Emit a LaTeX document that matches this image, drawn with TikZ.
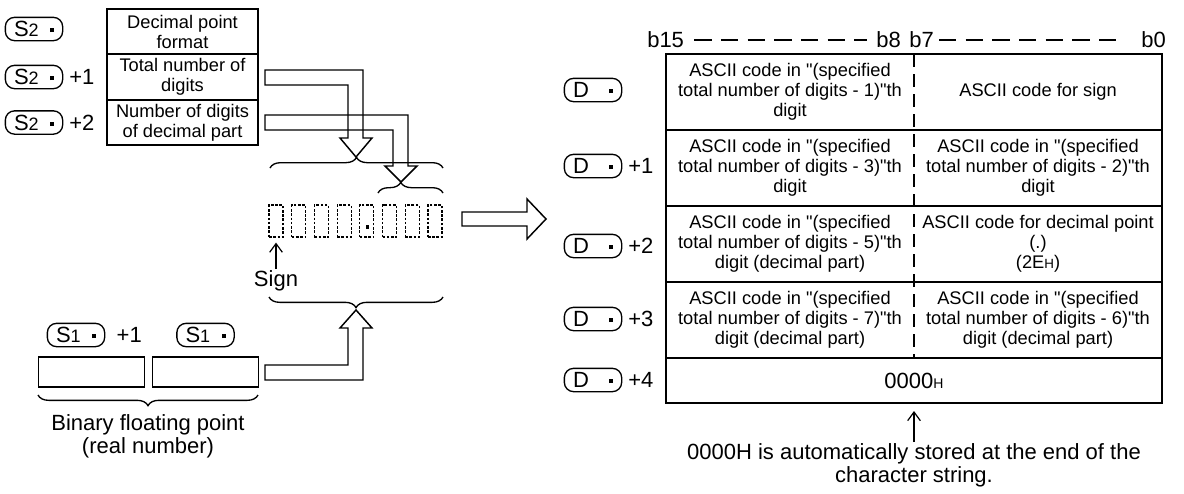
\documentclass[tikz,border=0pt]{standalone}
\usepackage{fontspec}
\setmainfont{Liberation Sans}[Ligatures=TeXOff]
\usetikzlibrary{arrows.meta,calc,positioning,decorations.pathreplacing}
\newcommand\blk{\rule[0.2em]{3pt}{3pt}}
\newcommand\dev[2]{\makebox[27pt][l]{#1{\fontsize{13.5}{13.5}\selectfont #2}}\blk}
\newcommand\hx{{\fontsize{10}{10}\selectfont H}}
\tikzset{ptr/.style={-{Straight Barb[length=6.5pt,width=9.5pt]}, line width=0.9pt},
  lbl/.style={font=\fontsize{16.5}{17.25}\selectfont},
  op/.style={lbl, draw, line width=1pt, rounded corners=7pt, minimum width=43pt, minimum height=17.5pt, inner sep=0pt},
  fld/.style={draw, line width=1.3pt, align=center, minimum width=113pt, minimum height=34pt, inner sep=0pt},
  word/.style={draw, line width=1.3pt, minimum width=79.5pt, minimum height=22.5pt, inner sep=0pt},
  dig/.style={draw, line width=0.9pt, dash pattern=on 2pt off 1.2pt, minimum width=10.5pt, minimum height=24pt, inner sep=0pt},
  cell/.style={align=center, minimum width=186pt, minimum height=57pt, inner sep=0pt, outer sep=0pt},
  tbl/.style={line width=1.5pt},
  mid/.style={line width=1.3pt, dash pattern=on 10pt off 5pt},
  hdash/.style={line width=1.1pt, dash pattern=on 13pt off 7pt},
  hollow/.style={draw, line width=1.1pt, line join=miter},
  brc/.style={decorate, decoration={brace, amplitude=8pt}, line width=1pt}}

\begin{document}
\begin{tikzpicture}[x=0.75pt, y=-0.75pt, font=\fontsize{13.7}{15}\selectfont]
  \useasboundingbox (0,0) rectangle (1184,493);
  % S2 fields
  \node[fld] (f1) at (182.5,31.5) {Decimal point\\format};
  \node[fld] (f2) at (182.5,77) {Total number of\\digits};
  \node[fld] (f3) at (182.5,122.5) {Number of digits\\of decimal part};
  \node[op] (s2a) at (34,29) {\dev{S}{2}};
  \node[op] (s2b) at (34,77) {\dev{S}{2}};
  \node[op] (s2c) at (34,122.5) {\dev{S}{2}};
  \node[lbl, right=1pt of s2b] (s2bn) {+1};
  \node[lbl, right=1pt of s2c] (s2cn) {+2};
  % digit string
  \foreach \i in {1,...,8}
    \node[dig] (g\i) at ({276+22.7*(\i-1)},221) {};
  \node[fill, minimum size=2.6pt, inner sep=0pt] (dp) at ($(g5.center)+(0.5,6)$) {};
  % hollow arrows into the braces
  \draw[hollow] (265,70) -- (363,70) -- (363,138) -- (372,138) -- (356,157) -- (340,138) -- (348,138) -- (348,85) -- (265,85) -- cycle;
  \draw[hollow] (265,115) -- (408,115) -- (408,166) -- (417,166) -- (401,182) -- (385,166) -- (393,166) -- (393,130) -- (265,130) -- cycle;
  \draw[brc] (270,168) -- (443,168);
  \draw[brc, decoration={brace, amplitude=8pt, aspect=0.35}] (378,193) -- (443,193);
  \node[lbl, inner sep=1pt] (sgn) at (276,281) {Sign};
  \draw[ptr] (sgn.north) -- ($(g1.south)+(0,5)$);
  \draw[brc] (443,297) -- (269,297);
  % S1 words
  \node[word] (w1) at (91.5,372) {};
  \node[word] (w0) at (205.5,372) {};
  \node[op] (s1b) at (76,335) {\dev{S}{1}};
  \node[lbl, right=5pt of s1b] (s1bn) {+1};
  \node[op] (s1a) at (205.5,335) {\dev{S}{1}};
  \draw[hollow] (265,365) -- (348,365) -- (348,328) -- (340,328) -- (356,310) -- (372,328) -- (363,328) -- (363,380) -- (265,380) -- cycle;
  \draw[brc] (258,395) -- (38,395);
  \node[lbl, align=center] (bfp) at (148,436) {Binary floating point\\(real number)};
  % to D
  \draw[hollow] (462,212) -- (527,212) -- (527,199) -- (546,219) -- (527,239) -- (527,226) -- (462,226) -- cycle;
  % bit header
  \node[lbl, inner sep=0pt, anchor=west] (b15) at (647,40) {b15};
  \node[lbl, inner sep=0pt, anchor=east] (b8) at (901,40) {b8};
  \node[lbl, inner sep=0pt, anchor=west] (b7) at (909,40) {b7};
  \node[lbl, inner sep=0pt, anchor=east] (b0) at (1166,40) {b0};
  \draw[hdash] ($(b15.east)+(10,0)$) -- ($(b8.west)+(-9,0)$);
  \draw[hdash] ($(b7.east)+(5,0)$) -- ($(b0.west)+(-18,0)$);
  % D table
  \node[cell] (hi1) at (790,92) {ASCII code in "(specified\\total number of digits - 1)"th\\digit};
  \node[cell] (hi2) at (790,168) {ASCII code in "(specified\\total number of digits - 3)"th\\digit};
  \node[cell] (hi3) at (790,244) {ASCII code in "(specified\\total number of digits - 5)"th\\digit (decimal part)};
  \node[cell] (hi4) at (790,320) {ASCII code in "(specified\\total number of digits - 7)"th\\digit (decimal part)};
  \node[cell] (lo1) at (1038,92) {ASCII code for sign};
  \node[cell] (lo2) at (1038,168) {ASCII code in "(specified\\total number of digits - 2)"th\\digit};
  \node[cell] (lo3) at (1038,244) {ASCII code for decimal point\\(.)\\(2E\hx)};
  \node[cell] (lo4) at (1038,320) {ASCII code in "(specified\\total number of digits - 6)"th\\digit (decimal part)};
  \node[cell, lbl, minimum width=372pt, minimum height=33.75pt] (nul) at (914,380.5) {0000{\fontsize{10.5}{10.5}\selectfont H}};
  \draw[tbl] (hi1.north west) rectangle (nul.south east);
  \foreach \r in {1,...,4} \draw[tbl] (hi\r.south west) -- (lo\r.south east);
  \draw[mid] (hi1.north east) -- (hi4.south east);
  \node[op] (d1) at (593,90) {\dev{D}{}};
  \foreach \r/\y [count=\k] in {2/166,3/246,4/319,5/380}{
    \node[op] (d\r) at (593,\y) {\dev{D}{}};
    \node[lbl, right=1pt of d\r] (dn\r) {+\k};
  }
  \node[lbl, align=center, inner sep=1pt, anchor=north] (note) at (914,442) {0000H is automatically stored at the end of the\\character string.};
  \draw[ptr] (note.north) -- ($(nul.south)+(0,8)$);
\end{tikzpicture}
\end{document}
